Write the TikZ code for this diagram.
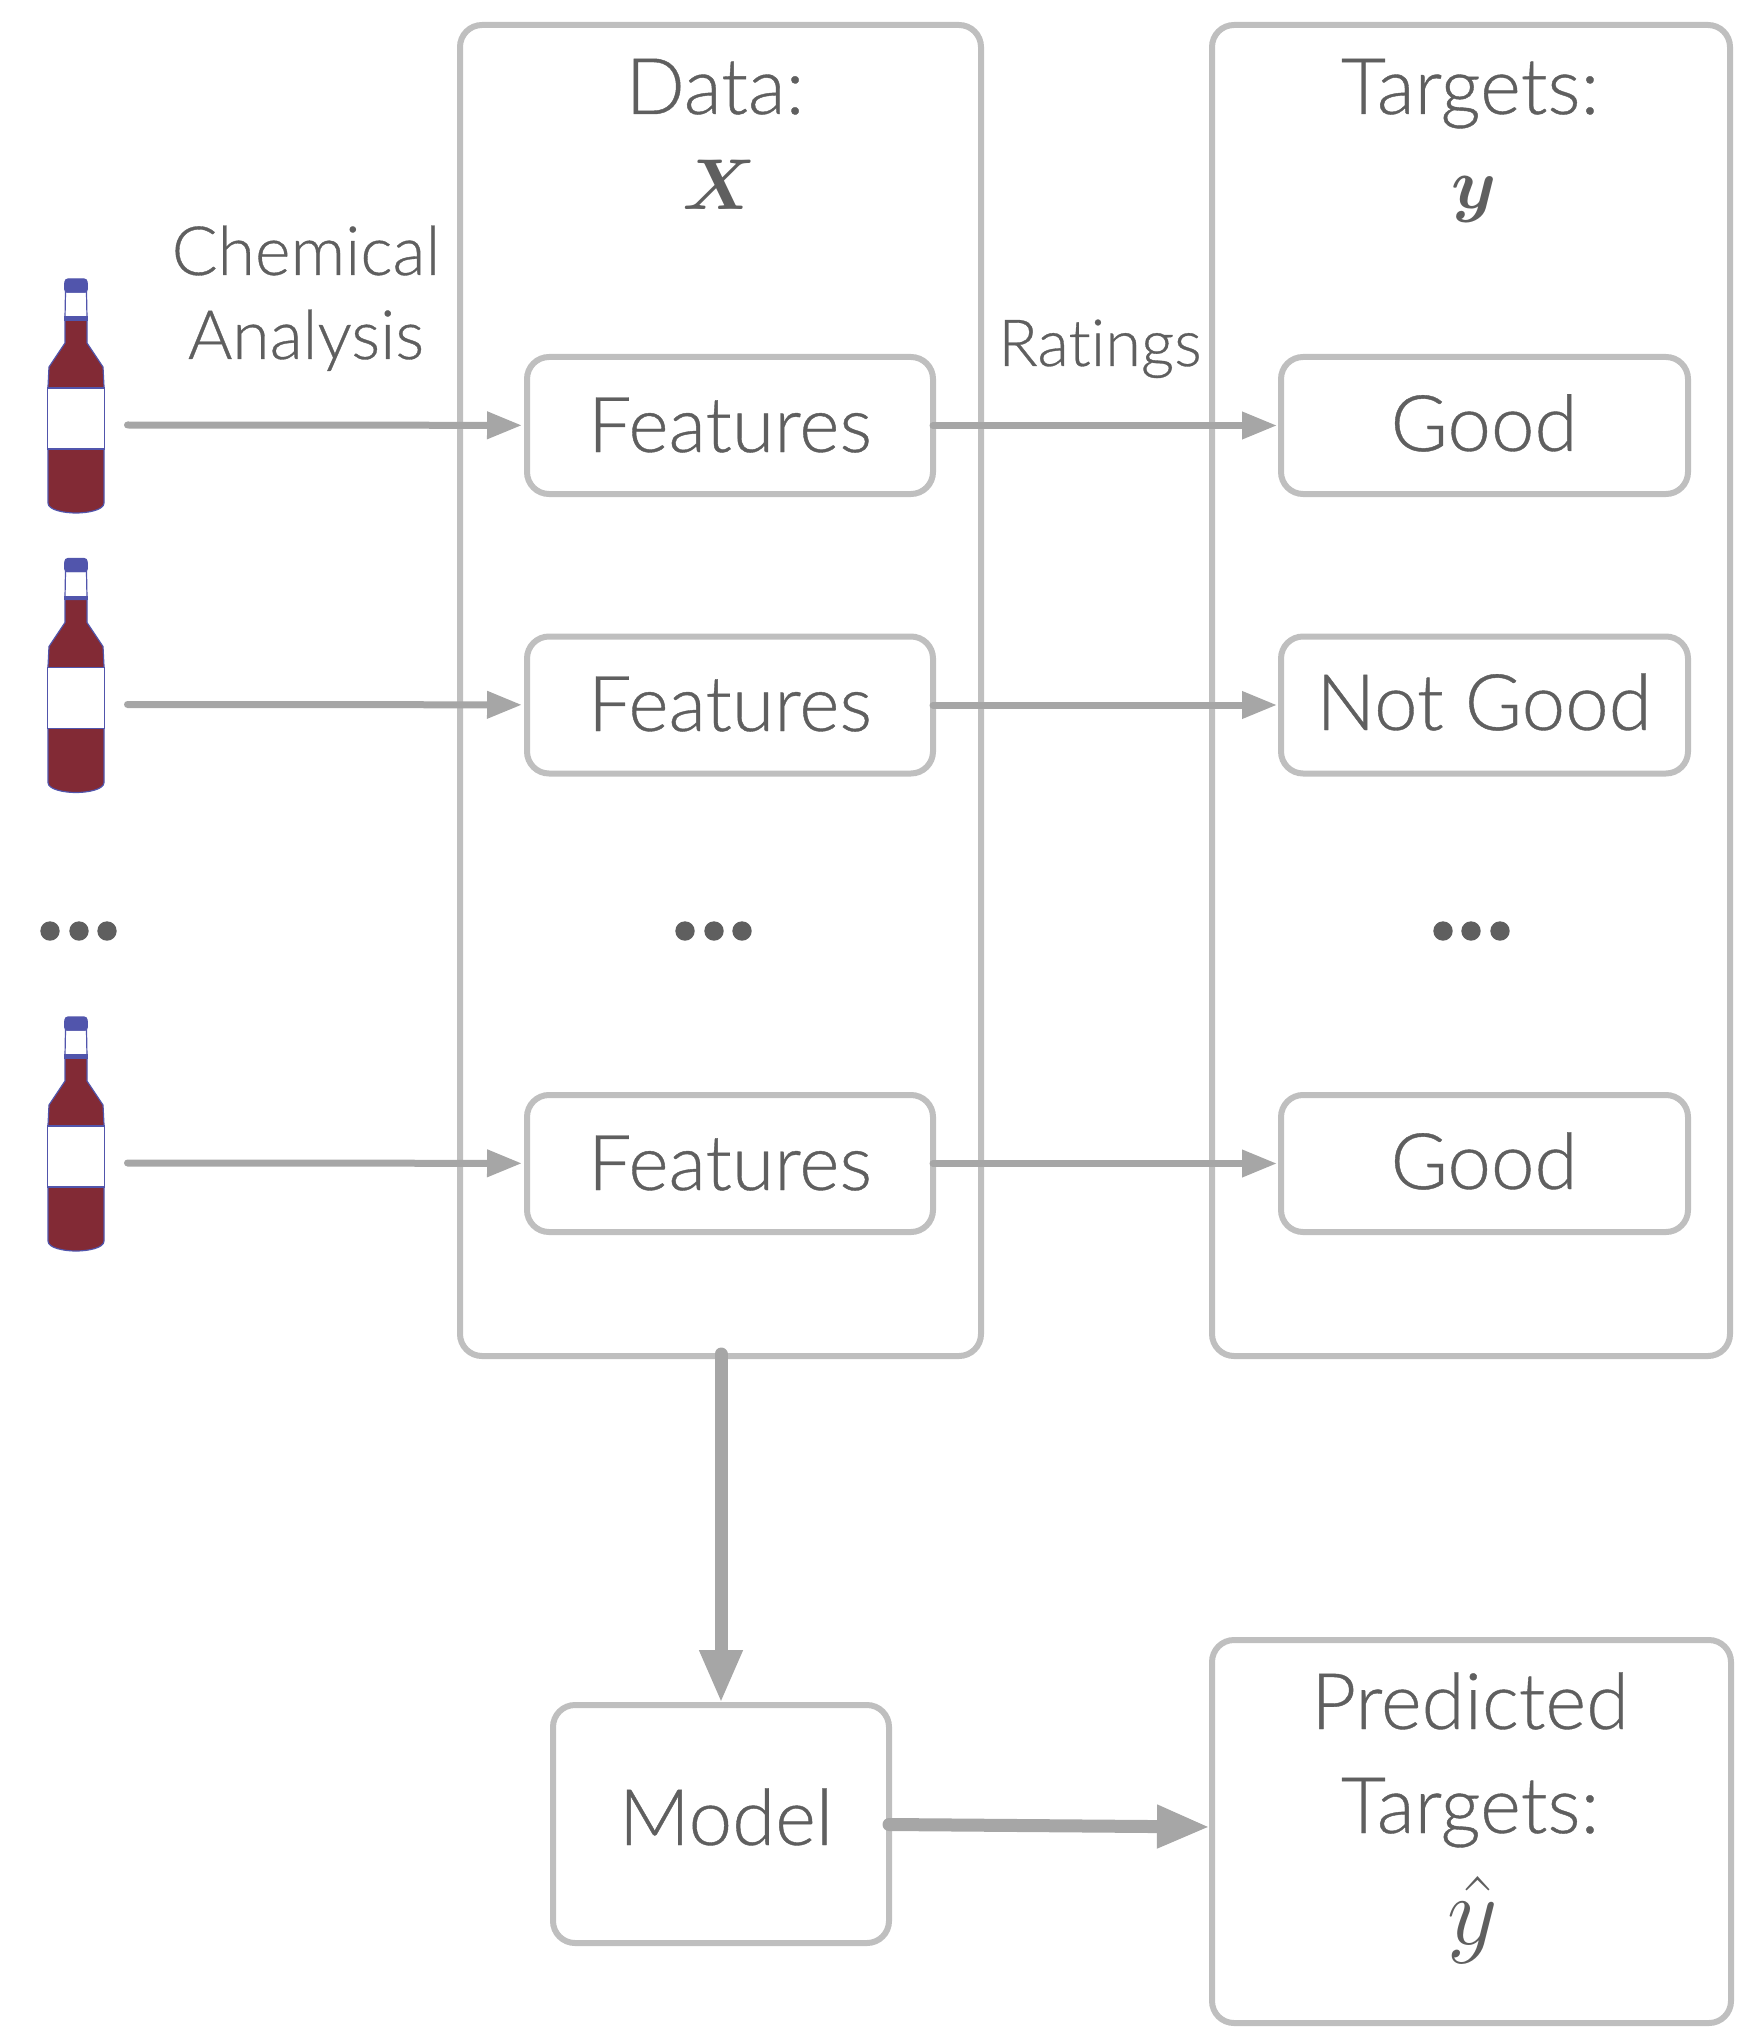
\documentclass[tikz,border=0pt]{standalone}
\usepackage{fix-cm}
\usepackage{amsmath}
\usepackage{amsfonts}
\usepackage{fontspec}
\setmainfont{Lato}[UprightFont=* Light,Ligatures=CommonOff,RawFeature={embolden=0.5}]
\usetikzlibrary{arrows.meta}

\definecolor{boxgray}{HTML}{BFBFBF}
\definecolor{arrowgray}{HTML}{A6A6A6}
\definecolor{textgray}{HTML}{5F5F5F}
\definecolor{wine}{HTML}{822A35}
\definecolor{capblue}{HTML}{5155AC}

\tikzset{
    roundbox/.style={draw=boxgray,line width=3pt,rounded corners=11pt,inner sep=0pt,outer sep=0pt},
    featbox/.style={roundbox,minimum width=203pt,minimum height=68.5pt},
    ratebox/.style={roundbox,minimum width=203.5pt,minimum height=68.5pt},
    lab/.style={text=textgray,font=\fontsize{39}{52}\selectfont,anchor=base,inner sep=0pt},
    dot/.style={circle,fill=textgray,minimum size=9.7pt,inner sep=0pt},
    thinarrow/.style={draw=arrowgray,line width=3.5pt,line cap=round,-{Triangle[length=17.5pt,width=13pt]}},
    fatarrow/.style={draw=arrowgray,line width=6.5pt,line cap=round,-{Triangle[length=26.5pt,width=20pt]}},
    bottleline/.style={draw=capblue,line width=0.6pt},
    bottle/.pic={
        \filldraw[fill=wine,bottleline] (-11,-105) -- (-11,-82) -- (-27,-58) -- (-28,-38) -- (-28,78)
            .. controls (-28,85) and (-12,88) .. (0,88) .. controls (12,88) and (28,85) .. (28,78)
            -- (28,-38) -- (27,-58) -- (11,-82) -- (11,-105) -- cycle;
        \filldraw[fill=white,bottleline] (-28.5,-37) -- (28.5,-37) -- (28.5,24) -- (-28.5,24) -- cycle;
        \filldraw[fill=white,bottleline] (-10.5,-133) -- (10.5,-133) -- (11,-107) -- (-11,-107) -- cycle;
        \filldraw[fill=capblue,bottleline] (-11.5,-108) -- (11.5,-108) -- (11.5,-105) -- (-11.5,-105) -- cycle;
        \filldraw[fill=capblue,bottleline,rounded corners=1.5pt] (-11,-146) -- (11,-146) -- (11.5,-133) -- (-11.5,-133) -- cycle;
    }
}

\begin{document}
\begin{tikzpicture}[x=0.5pt,y=-0.5pt]
    \useasboundingbox (0,0) rectangle (1736,2027);

    % outer panels
    \node[roundbox,minimum width=260.5pt,minimum height=665.5pt] (data) at (720.5,690.5) {};
    \node[roundbox,minimum width=259pt,minimum height=665.5pt] (targets) at (1471,690.5) {};
    \node[roundbox,minimum width=168pt,minimum height=119pt] (model) at (721,1824) {};
    \node[roundbox,minimum width=259.5pt,minimum height=191.5pt] (pred) at (1471.5,1831.5) {};

    \node[featbox] (f1) at (730,425.5) {};
    \node[featbox] (f2) at (730,705) {};
    \node[featbox] (f3) at (730,1163.5) {};

    \node[ratebox] (t1) at (1484.5,425.5) {};
    \node[ratebox] (t2) at (1484.5,705) {};
    \node[ratebox] (t3) at (1484.5,1163.5) {};

    % texts
    \begin{scope}[every node/.style={lab}]
        \node (datalab) at (715,114) {Data:};
        \node (targetlab) at (1470,114) {Targets:};
        \node (x) at (719,210) {\fontsize{36}{40}\selectfont$\boldsymbol{X}$};
        \node (y) at (1474,209) {\fontsize{36}{40}\selectfont$\boldsymbol{y}$};

        \node[font=\fontsize{38.5}{52}\selectfont] (ft1) at (730,452) {Features};
        \node[font=\fontsize{38.5}{52}\selectfont] (ft2) at (730,731) {Features};
        \node[font=\fontsize{38.5}{52}\selectfont] (ft3) at (730,1190) {Features};

        \node (tt1) at (1484,451) {Good};
        \node (tt2) at (1484,730) {Not Good};
        \node (tt3) at (1484,1189) {Good};

        \node (modellab) at (726,1845) {Model};
        \node[align=center] (predlab) at (1470,1833) {Predicted\\Targets:};
        \node (yhat) at (1473,1944) {\fontsize{49}{52}\selectfont$\hat{y}$};

        \node[font=\fontsize{34}{42}\selectfont,align=center] (chem) at (306,359) {Chemical\\Analysis};
        \node[font=\fontsize{32.5}{36}\selectfont] (rate) at (1100,366) {Ratings};
    \end{scope}

    % bottles
    \pic (b1) at (76,425) {bottle};
    \pic (b2) at (76,704.5) {bottle};
    \pic (b3) at (76,1163) {bottle};

    % the three rows of dots
    \begin{scope}[every node/.style={dot}]
        \node (d1) at (50,931) {};
        \node (d2) at (79,931) {};
        \node (d3) at (107,931) {};

        \node (d4) at (685,931) {};
        \node (d5) at (714,931) {};
        \node (d6) at (742,931) {};

        \node (d7) at (1443,931) {};
        \node (d8) at (1471,931) {};
        \node (d9) at (1500,931) {};
    \end{scope}

    % free ends of the connectors
    \coordinate (s1) at (127.5,425);
    \coordinate (s2) at (127.5,704.5);
    \coordinate (s3) at (127.5,1163);
    \coordinate (dstart) at (721,1354);
    \coordinate (mstart) at (889,1824.5);

    \begin{scope}[every edge/.style={thinarrow,shorten >=2.5pt}]
        \path (s1) edge (f1);
        \path (s2) edge (f2);
        \path (s3) edge (f3);
    \end{scope}
    \begin{scope}[every edge/.style={thinarrow,shorten >=2pt}]
        \path (f1) edge (t1);
        \path (f2) edge (t2);
        \path (f3) edge (t3);
    \end{scope}
    \begin{scope}[every edge/.style={fatarrow,shorten >=1pt}]
        \path (dstart) edge (model);
        \path (mstart) edge (pred.179.3);
    \end{scope}
\end{tikzpicture}
\end{document}
